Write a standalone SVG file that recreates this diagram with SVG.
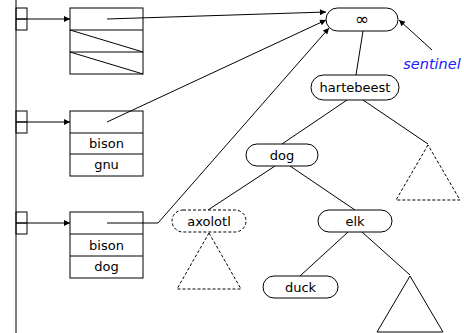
<svg xmlns="http://www.w3.org/2000/svg" width="464" height="333" viewBox="0 0 464 333">
<defs>
<style>
.ln{stroke:#000;stroke-width:1;fill:none}
.dash{stroke:#000;stroke-width:1;fill:none;stroke-dasharray:3,2}
.nd{stroke:#000;stroke-width:1;fill:#fff}
.ndd{stroke:#000;stroke-width:1;fill:#fff;stroke-dasharray:3,2}
.tx{font-family:"DejaVu Sans",sans-serif;font-size:13px;fill:#000;text-anchor:middle}
</style>
<marker id="ah" viewBox="0 0 10 10" refX="10" refY="5" markerWidth="8" markerHeight="6" orient="auto" markerUnits="userSpaceOnUse">
<path d="M0,0 L10,5 L0,10 z" fill="#000"/>
</marker>
</defs>
<rect width="464" height="333" fill="#fff"/>
<g id="spine">
<line class="ln" x1="16" y1="0" x2="16" y2="333"/>
</g>
<g id="slot1">
<rect class="ln" x="16" y="8" width="11" height="22"/>
<line class="ln" x1="16" y1="19" x2="27" y2="19"/>
</g>
<g id="slot2">
<rect class="ln" x="16" y="111" width="11" height="22"/>
<line class="ln" x1="16" y1="122" x2="27" y2="122"/>
</g>
<g id="slot3">
<rect class="ln" x="16" y="212" width="11" height="22"/>
<line class="ln" x1="16" y1="223" x2="27" y2="223"/>
</g>
<g id="entry1">
<rect class="nd" x="70" y="8" width="73" height="66"/>
<line class="ln" x1="70" y1="30" x2="143" y2="30"/>
<line class="ln" x1="70" y1="52" x2="143" y2="52"/>
<line class="ln" x1="70" y1="30" x2="143" y2="52"/>
<line class="ln" x1="70" y1="52" x2="143" y2="74"/>
</g>
<g id="entry2">
<rect class="nd" x="70" y="111" width="73" height="65"/>
<line class="ln" x1="70" y1="133" x2="143" y2="133"/>
<line class="ln" x1="70" y1="154" x2="143" y2="154"/>
<text class="tx" x="106.5" y="148">bison</text>
<text class="tx" x="106.5" y="169">gnu</text>
</g>
<g id="entry3">
<rect class="nd" x="70" y="212" width="73" height="66"/>
<line class="ln" x1="70" y1="234" x2="143" y2="234"/>
<line class="ln" x1="70" y1="256" x2="143" y2="256"/>
<text class="tx" x="106.5" y="250">bison</text>
<text class="tx" x="106.5" y="271">dog</text>
</g>
<g id="connectors">
<line class="ln" x1="16" y1="19" x2="70" y2="19" marker-end="url(#ah)"/>
<line class="ln" x1="16" y1="122" x2="70" y2="122" marker-end="url(#ah)"/>
<line class="ln" x1="16" y1="223" x2="70" y2="223" marker-end="url(#ah)"/>
<line class="ln" x1="107" y1="19" x2="326" y2="12" marker-end="url(#ah)"/>
<line class="ln" x1="107" y1="122" x2="326" y2="20" marker-end="url(#ah)"/>
<polyline class="ln" points="107,223 158,223 329,28" marker-end="url(#ah)"/>
<line class="ln" x1="432" y1="50" x2="399" y2="20" marker-end="url(#ah)"/>
<line class="ln" x1="363" y1="31" x2="356" y2="75"/>
<line class="ln" x1="347" y1="100" x2="282" y2="144"/>
<line class="ln" x1="363" y1="100" x2="428" y2="144"/>
<line class="ln" x1="275" y1="166" x2="208" y2="210"/>
<line class="ln" x1="290" y1="166" x2="355" y2="210"/>
<line class="ln" x1="348" y1="232" x2="300" y2="276"/>
<line class="ln" x1="362" y1="232" x2="410" y2="275"/>
</g>
<g id="sentinel-node">
<rect class="nd" x="326" y="8" width="72" height="23" rx="11.5"/>
<text class="tx" x="362" y="25" style="font-size:17px">∞</text>
</g>
<g id="sentinel-label">
<text x="432" y="69" font-family="DejaVu Sans,sans-serif" font-size="14.5" font-style="italic" fill="#2020ff" text-anchor="middle">sentinel</text>
</g>
<g id="hartebeest">
<rect class="nd" x="311" y="75" width="88" height="25" rx="12.5"/>
<text class="tx" x="355" y="92">hartebeest</text>
</g>
<g id="dog">
<rect class="nd" x="246" y="144" width="72" height="22" rx="11"/>
<text class="tx" x="282" y="160">dog</text>
</g>
<g id="subtree-right">
<polygon class="dash" points="428,145 396,200 460,200"/>
</g>
<g id="axolotl">
<rect class="ndd" x="172" y="210" width="74" height="22" rx="11"/>
<text class="tx" x="209" y="226">axolotl</text>
</g>
<g id="subtree-axolotl">
<polygon class="dash" points="209,233 177,289 241,289"/>
</g>
<g id="elk">
<rect class="nd" x="318" y="210" width="74" height="22" rx="11"/>
<text class="tx" x="355" y="226">elk</text>
</g>
<g id="duck">
<rect class="nd" x="263" y="276" width="75" height="22" rx="11"/>
<text class="tx" x="300.5" y="292">duck</text>
</g>
<g id="subtree-elk">
<polygon class="ln" points="410,276 377,332 443,332"/>
</g>
</svg>
